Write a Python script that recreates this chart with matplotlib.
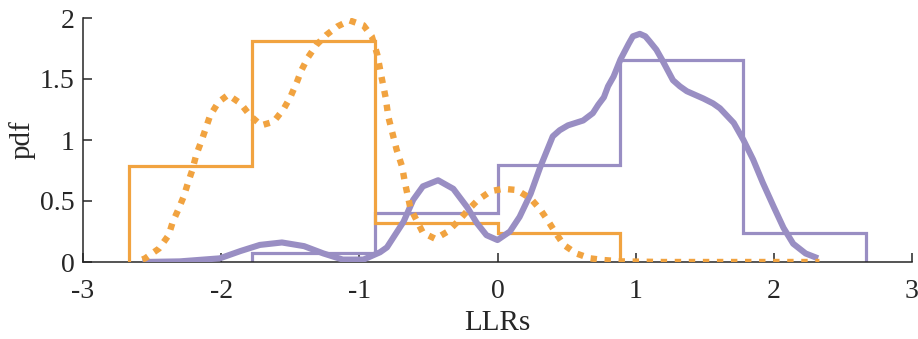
import numpy as np
import matplotlib
matplotlib.use("Agg")
import matplotlib.pyplot as plt

# ---- data ----
bin_edges = [-2.67, -1.78, -0.89, 0.0, 0.89, 1.78, 2.67]
orange_hist = [0.79, 1.81, 0.32, 0.235]           # bins 1..4 (rest empty)
purple_hist = [0.07, 0.40, 0.795, 1.656, 0.235]   # bins 2..6 (first empty)

orange_kde_x = [-2.57, -2.55, -2.45, -2.38, -2.35, -2.31, -2.27, -2.24, -2.21, -2.18,
                -2.14, -2.11, -2.08, -2.02, -1.95, -1.86, -1.79, -1.71, -1.62, -1.55,
                -1.50, -1.45, -1.42, -1.37, -1.31, -1.24, -1.16, -1.07, -0.97, -0.91,
                -0.87, -0.84, -0.81, -0.79, -0.73, -0.69, -0.67, -0.63, -0.58, -0.54,
                -0.45, -0.36, -0.28, -0.21, -0.14, -0.05, 0.04, 0.14, 0.24, 0.31,
                0.37, 0.42, 0.48, 0.57, 0.67, 0.77, 0.90, 1.20, 1.60, 2.00, 2.33]
orange_kde_y = [0.02, 0.03, 0.11, 0.22, 0.33, 0.43, 0.54, 0.65, 0.75, 0.88,
                1.00, 1.10, 1.20, 1.31, 1.37, 1.30, 1.20, 1.12, 1.15, 1.25,
                1.35, 1.48, 1.57, 1.68, 1.78, 1.86, 1.93, 1.98, 1.94, 1.85,
                1.70, 1.52, 1.35, 1.19, 0.92, 0.78, 0.65, 0.44, 0.33, 0.24,
                0.19, 0.25, 0.34, 0.43, 0.51, 0.58, 0.60, 0.59, 0.52, 0.43,
                0.33, 0.24, 0.14, 0.07, 0.03, 0.016, 0.005, 0.0, 0.0, 0.0, 0.0]

purple_kde_x = [-2.57, -2.30, -2.01, -1.86, -1.72, -1.56, -1.40, -1.26, -1.12, -0.97,
                -0.85, -0.80, -0.68, -0.61, -0.54, -0.43, -0.32, -0.22, -0.15, -0.08,
                0.00, 0.09, 0.16, 0.24, 0.31, 0.40, 0.45, 0.51, 0.62, 0.69,
                0.73, 0.77, 0.80, 0.84, 0.89, 0.95, 0.98, 1.03, 1.07, 1.10,
                1.15, 1.19, 1.27, 1.32, 1.37, 1.43, 1.49, 1.56, 1.61, 1.66,
                1.71, 1.78, 1.85, 1.92, 2.00, 2.07, 2.14, 2.23, 2.32]
purple_kde_y = [0.00, 0.005, 0.03, 0.09, 0.14, 0.16, 0.13, 0.07, 0.02, 0.02,
                0.08, 0.12, 0.33, 0.51, 0.62, 0.67, 0.60, 0.45, 0.32, 0.22,
                0.18, 0.25, 0.37, 0.56, 0.78, 1.03, 1.08, 1.12, 1.16, 1.22,
                1.29, 1.35, 1.44, 1.52, 1.66, 1.79, 1.85, 1.87, 1.85, 1.81,
                1.74, 1.66, 1.49, 1.44, 1.40, 1.37, 1.34, 1.30, 1.26, 1.20,
                1.14, 1.00, 0.84, 0.65, 0.45, 0.28, 0.15, 0.07, 0.03]

x_ticks = [-3, -2, -1, 0, 1, 2, 3]
y_ticks = [0, 0.5, 1, 1.5, 2]
y_tick_labels = ["0", "0.5", "1", "1.5", "2"]

ORANGE = "#f1a340"
PURPLE = "#998ec3"
INK = "#262626"

plt.rcParams["font.family"] = ["Liberation Serif", "DejaVu Serif"]
plt.rcParams["axes.unicode_minus"] = False

fig = plt.figure(figsize=(9.18, 3.39), dpi=100)
ax = fig.add_axes([83 / 918, 1 - 262 / 339, (912 - 83) / 918, (262 - 18) / 339])

ax.stairs(purple_hist, bin_edges[1:], color=PURPLE, lw=2.3, zorder=2)
ax.stairs(orange_hist, bin_edges[:5], color=ORANGE, lw=2.3, zorder=3)
ax.plot(purple_kde_x, purple_kde_y, color=PURPLE, lw=4.4, solid_capstyle="butt",
        solid_joinstyle="round", zorder=4)
ax.plot(orange_kde_x, orange_kde_y, color=ORANGE, lw=4.6, linestyle=(0, (1.0, 1.2)),
        dash_capstyle="butt", zorder=5)

ax.set_xlim(-3, 3)
ax.set_ylim(0, 2)
ax.set_xticks(x_ticks)
ax.set_xticklabels([str(t) for t in x_ticks])
ax.set_yticks(y_ticks)
ax.set_yticklabels(y_tick_labels)

for s in ["top", "right"]:
    ax.spines[s].set_visible(False)
for s in ["left", "bottom"]:
    ax.spines[s].set_color(INK)
    ax.spines[s].set_linewidth(1.1)
ax.tick_params(direction="in", length=6.5, width=1.1, color=INK,
               labelsize=20, labelcolor=INK)
ax.tick_params(axis="x", pad=12)
ax.tick_params(axis="y", pad=6)

ax.set_xlabel("LLRs", fontsize=21, color=INK, labelpad=4.5)
ax.set_ylabel("pdf", fontsize=21, color=INK, labelpad=3)

fig.savefig("out.png", dpi=100)
